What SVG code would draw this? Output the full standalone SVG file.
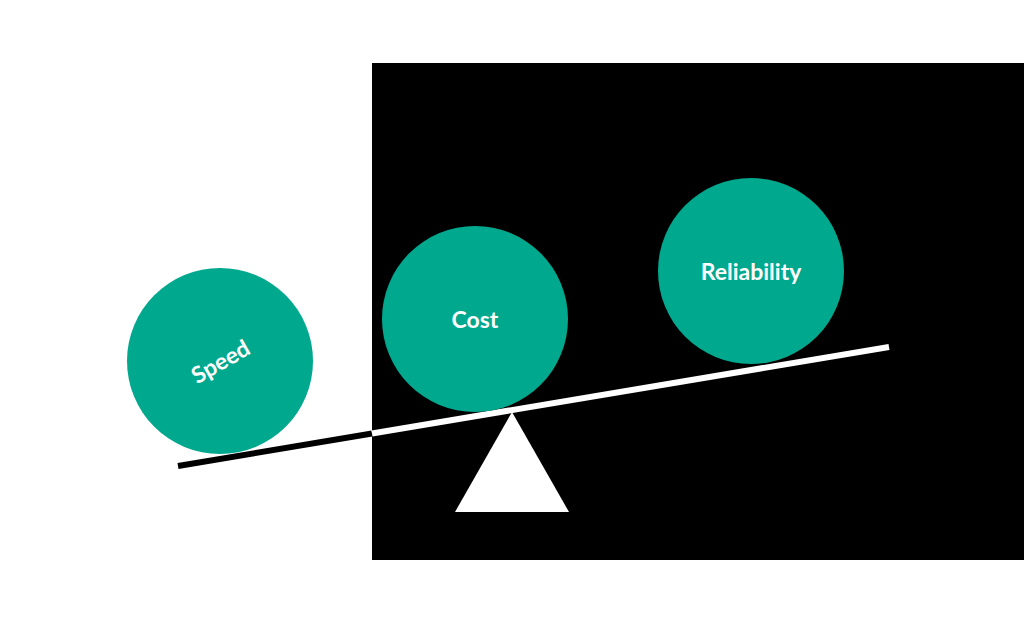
<svg xmlns="http://www.w3.org/2000/svg" width="1024" height="624" viewBox="0 0 1024 624">
<style>
.ball{fill:#00a88e}
.lbl{fill:#fff;font-family:Lato,"Noto Sans",sans-serif;font-weight:bold;font-size:23px;text-anchor:middle;dominant-baseline:central}
</style>
<rect width="1024" height="624" fill="#fff"/>
<rect x="372" y="63" width="652" height="497" fill="#000"/>
<g id="connectors">
<line x1="178" y1="466" x2="372" y2="433.5" stroke="#000" stroke-width="6"/>
<line x1="372" y1="433.5" x2="889" y2="347" stroke="#fff" stroke-width="6"/>
</g>
<g id="fulcrum"><polygon points="512,412 455,512 569,512" fill="#fff"/></g>
<g id="speed"><circle class="ball" cx="220" cy="361" r="93"/><text class="lbl" transform="translate(220,361) rotate(-30)">Speed</text></g>
<g id="cost"><circle class="ball" cx="475" cy="319" r="93"/><text class="lbl" x="475" y="319">Cost</text></g>
<g id="reliability"><circle class="ball" cx="751" cy="271" r="93"/><text class="lbl" x="751" y="271">Reliability</text></g>
</svg>
